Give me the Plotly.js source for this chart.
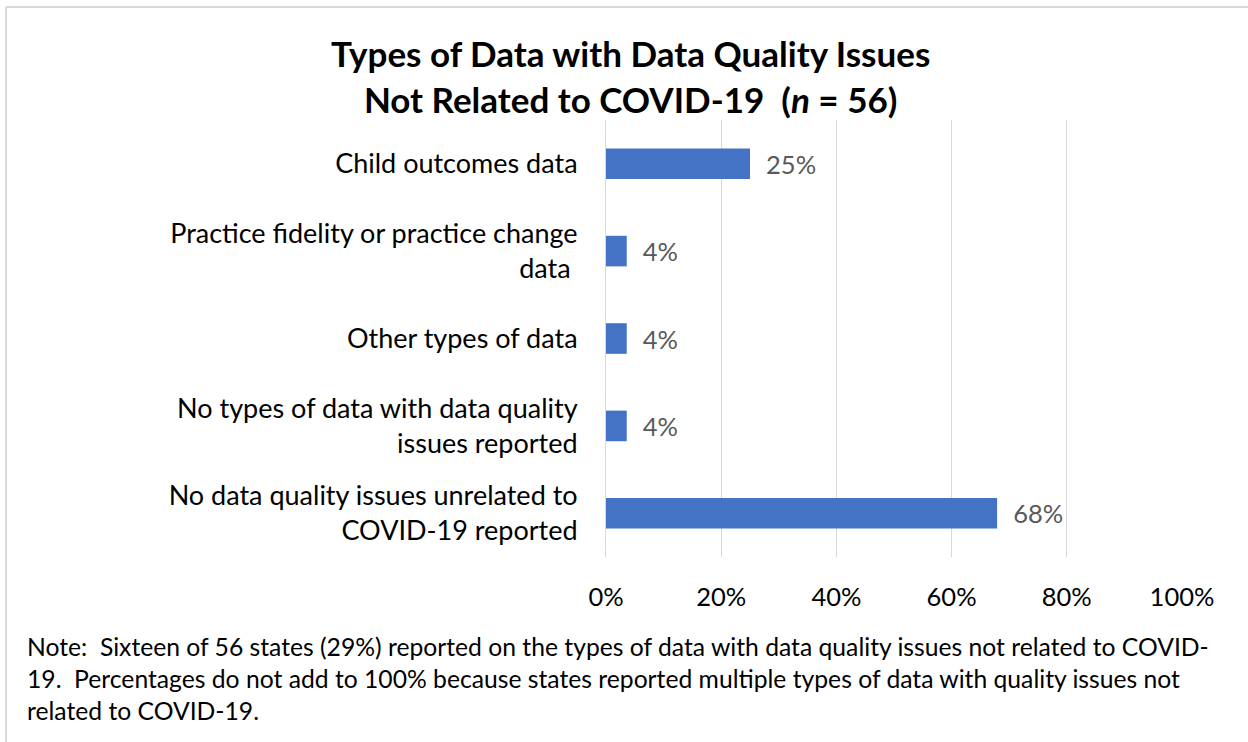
<!DOCTYPE html>
<html>
<head>
<meta charset="utf-8">
<script src="https://cdn.plot.ly/plotly-3.0.1.min.js"></script>
<style>
html,body{margin:0;padding:0;background:#fff;}
#chart{width:1248px;height:742px;}
</style>
</head>
<body>
<div id="chart"></div>
<script>
var categories = [
  "Child outcomes data",
  "Practice fidelity or practice change<br>data\u00A0",
  "Other types of data",
  "No types of data with data quality<br>issues reported",
  "No data quality issues unrelated to<br>COVID-19 reported"
];
var percentValues = [25, 3.6, 3.6, 3.6, 67.9];
var tickValues = [0, 20, 40, 60, 80, 100];
var tickLabels = ["0%", "20%", "40%", "60%", "80%", "100%"];
var titleText = "<b>Types of Data with Data Quality Issues<br>Not Related to COVID-19  (<i>n</i> = 56)</b>";
var noteText = "Note:  Sixteen of 56 states (29%) reported on the types of data with data quality issues not related to COVID-<br>19.  Percentages do not add to 100% because states reported multiple types of data with quality issues not<br>related to COVID-19.";

var W = 1248, H = 742, L = 606, R = 66, T = 120, B = 185;
var pw = W - L - R, ph = H - T - B;
function px(x){ return (x - L) / pw; }
function py(y){ return (H - B - y) / ph; }

var FONT = "Lato, 'Open Sans', sans-serif";

var trace = {
  type: "bar",
  orientation: "h",
  x: percentValues,
  y: categories,
  marker: {color: "#4472C4"},
  width: 0.35,
  texttemplate: "\u00A0\u00A0%{x:.0f}%",
  textposition: "outside",
  cliponaxis: false,
  textfont: {family: FONT, size: 25.5, color: "#595959"},
  hoverinfo: "none"
};

var layout = {
  width: W, height: H,
  margin: {l: L, r: R, t: T, b: B, pad: 0},
  paper_bgcolor: "#ffffff",
  plot_bgcolor: "#ffffff",
  showlegend: false,
  font: {family: FONT, color: "#000000"},
  xaxis: {
    range: [0, 100],
    tickvals: tickValues,
    ticktext: tickLabels,
    showgrid: true,
    gridcolor: "#d9d9d9",
    gridwidth: 1,
    zeroline: false,
    showline: false,
    ticks: "",
    ticklabelstandoff: 22,
    tickfont: {family: FONT, size: 25.5, color: "#000000"},
    fixedrange: true
  },
  yaxis: {
    autorange: "reversed",
    showgrid: false,
    zeroline: false,
    showline: true,
    linecolor: "#d9d9d9",
    linewidth: 1,
    ticks: "",
    ticklabelstandoff: 22,
    tickfont: {family: FONT, size: 27, color: "#000000"},
    fixedrange: true
  },
  annotations: [{
    text: titleText,
    xref: "paper", yref: "paper",
    x: px(630), y: py(76),
    xanchor: "center", yanchor: "middle",
    align: "center",
    showarrow: false,
    font: {family: FONT, size: 35, color: "#000000"}
  }, {
    text: noteText,
    xref: "paper", yref: "paper",
    x: px(25), y: py(630),
    xanchor: "left", yanchor: "top",
    align: "left",
    showarrow: false,
    font: {family: FONT, size: 24.7, color: "#000000"}
  }],
  shapes: [
    {type: "line", xref: "paper", yref: "paper", x0: px(6), x1: px(1248), y0: py(7), y1: py(7), line: {color: "#d9d9d9", width: 2}},
    {type: "line", xref: "paper", yref: "paper", x0: px(6), x1: px(6), y0: py(7), y1: py(742), line: {color: "#d9d9d9", width: 2}}
  ]
};

Plotly.newPlot("chart", [trace], layout, {displayModeBar: false, staticPlot: true});
</script>
</body>
</html>
